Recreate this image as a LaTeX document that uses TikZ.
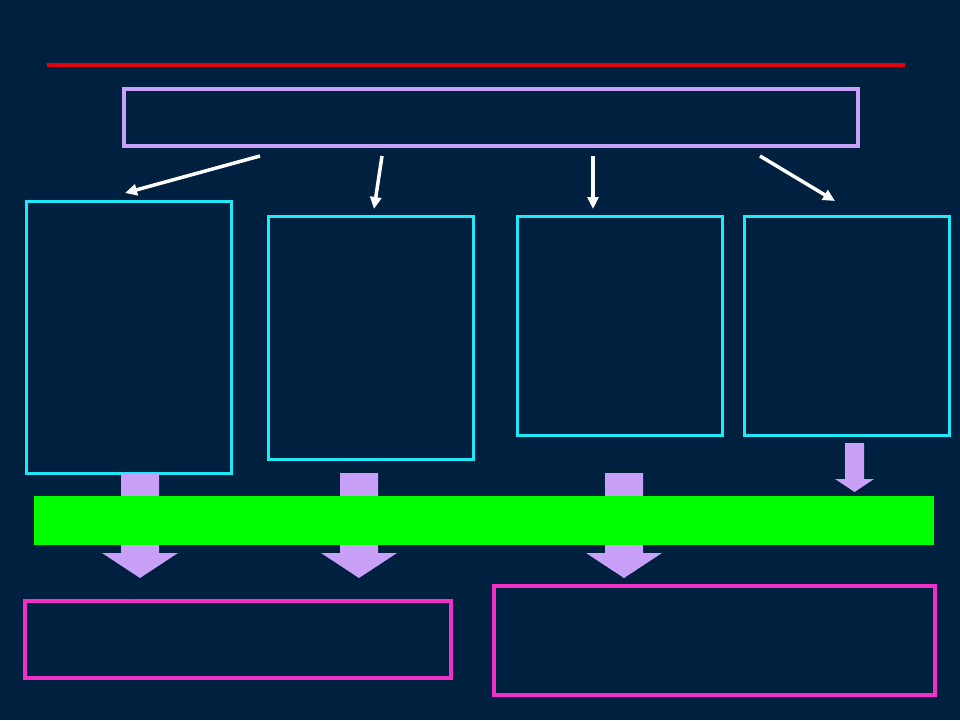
\documentclass[tikz,border=0pt]{standalone}
\usetikzlibrary{arrows.meta}
\definecolor{bg}{RGB}{0,32,64}
\definecolor{redline}{RGB}{224,0,16}
\definecolor{lav}{RGB}{200,160,248}
\definecolor{cyanb}{RGB}{32,232,248}
\definecolor{pinkb}{RGB}{240,48,200}
\definecolor{greenbar}{RGB}{0,255,0}
\tikzset{
  box/.style={draw, inner sep=0pt, outer sep=0pt, anchor=north west},
  lavbox/.style={box, draw=lav, line width=4pt},
  cyanbox/.style={box, draw=cyanb, line width=3pt},
  pinkbox/.style={box, draw=pinkb, line width=4pt},
  whitearrow/.style={draw=white, line width=3.5pt, -{Triangle[length=12pt,width=11pt]}},
  blockarrow/.style={fill=lav, draw=none},
}
\begin{document}
\begin{tikzpicture}[x=1pt,y=-1pt]
\fill[bg] (0,0) rectangle (960,720);
\useasboundingbox (0,0) rectangle (960,720);
% red rule
\draw[redline, line width=4pt] (47,65) -- (905,65);
% top box
\node[lavbox, minimum width=734pt, minimum height=57pt] (top) at (124,89) {};
% cyan boxes
\node[cyanbox, minimum width=205pt, minimum height=272pt] (c1) at (26,201) {};
\node[cyanbox, minimum width=205pt, minimum height=243pt] (c2) at (268,216) {};
\node[cyanbox, minimum width=205pt, minimum height=219pt] (c3) at (517,216) {};
\node[cyanbox, minimum width=205pt, minimum height=219pt] (c4) at (744,216) {};
% white arrows
\coordinate (s1) at (260,156); \coordinate (e1) at (125,193);
\coordinate (s2) at (382,156); \coordinate (e2) at (374,209);
\coordinate (s3) at (593,156); \coordinate (e3) at (593,209);
\coordinate (s4) at (760,156); \coordinate (e4) at (835,201);
\draw[whitearrow] (s1) -- (e1);
\draw[whitearrow] (s2) -- (e2);
\draw[whitearrow] (s3) -- (e3);
\draw[whitearrow] (s4) -- (e4);
% block arrows through bar
\foreach \cx in {140,359,624}{
  \fill[lav] (\cx-19,473) -- (\cx+19,473) -- (\cx+19,553) -- (\cx+38,553)
     -- (\cx,578) -- (\cx-38,553) -- (\cx-19,553) -- cycle;
}
\fill[lav] (845,443) -- (864,443) -- (864,479) -- (874,479) -- (854.5,492)
   -- (835,479) -- (845,479) -- cycle;
% green bar
\node[fill=greenbar, inner sep=0pt, outer sep=0pt, anchor=north west,
      minimum width=900pt, minimum height=49pt] (bar) at (34,496) {};
% pink boxes
\node[pinkbox, minimum width=426pt, minimum height=77pt] (p1) at (25,601) {};
\node[pinkbox, minimum width=441pt, minimum height=109pt] (p2) at (494,586) {};
\end{tikzpicture}
\end{document}
